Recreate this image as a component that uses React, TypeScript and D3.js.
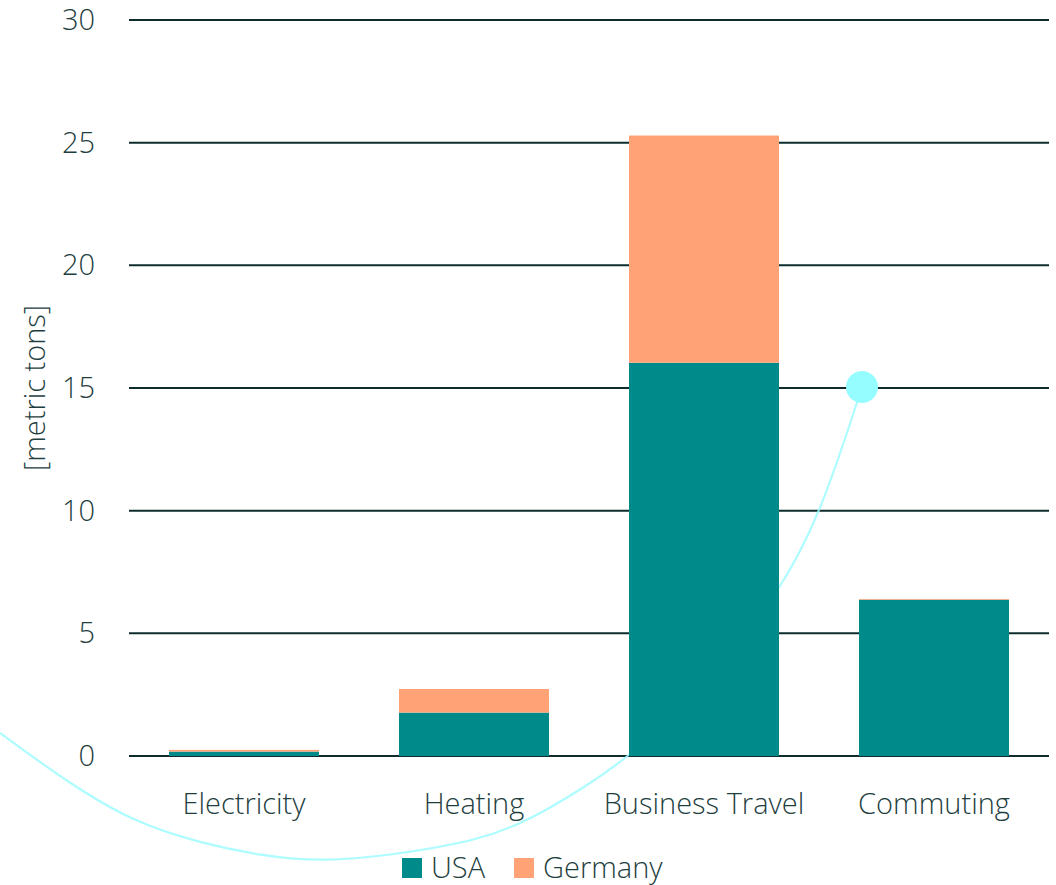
import React from "react";
import * as d3 from "d3";

const categories = ["Electricity", "Heating", "Business Travel", "Commuting"];
const usa = [0.18, 1.77, 16.03, 6.37];
const germany = [0.07, 0.96, 9.26, 0.03];
const seriesNames = ["USA", "Germany"];
const yTicks = [0, 5, 10, 15, 20, 25, 30];
const yLabel = "[metric tons]";

// decorative swoosh (not data)
const swoosh: [number, number][] = [
  [0, 733], [67, 782], [133, 822], [200, 843], [262, 856], [325, 862],
  [400, 854], [480, 840], [530, 820], [580, 790], [630, 757], [705, 685],
  [780, 593], [822, 510], [862, 387],
];

const W = 1056;
const H = 885;
const TEAL = "#008b8a";
const ORANGE = "#ffa275";
const GRID = "#0f2d2d";
const TEXT = "#1f3f3f";
const FONT = "'Open Sans', sans-serif";

export default function App() {
  const x = d3
    .scaleBand<string>()
    .domain(categories)
    .range([129, 1049])
    .paddingInner(80 / 230)
    .paddingOuter(40 / 230);
  const y = d3.scaleLinear().domain([0, 30]).range([756, 20]);

  const stackData = categories.map((c, i) => ({ cat: c, USA: usa[i], Germany: germany[i] }));
  const stacks = d3.stack<any>().keys(seriesNames)(stackData);
  const colors = [TEAL, ORANGE];

  const line = d3.line().curve(d3.curveBasis)(swoosh) || "";

  return (
    <svg
      width={W}
      height={H}
      style={{ position: "absolute", left: 0, top: 0, background: "#fff" }}
      fontFamily={FONT}
    >
      {/* gridlines */}
      {yTicks.map((t) => (
        <line key={t} x1={129} x2={1049} y1={y(t)} y2={y(t)} stroke={GRID} strokeWidth={2} />
      ))}
      {/* tick labels */}
      {yTicks.map((t) => (
        <text
          key={"l" + t}
          x={95}
          y={y(t)}
          dy="0.35em"
          textAnchor="end"
          fontSize={29}
          fontWeight={300}
          fill={TEXT}
        >
          {t}
        </text>
      ))}
      <text
        transform={`translate(45,388) rotate(-90)`}
        textAnchor="middle"
        fontSize={29}
        fontWeight={300}
        fill={TEXT}
      >
        {yLabel}
      </text>

      {/* swoosh behind bars */}
      <path d={line} fill="none" stroke="#9ffcff" strokeWidth={2.2} opacity={0.85} />
      <circle cx={swoosh[swoosh.length - 1][0]} cy={swoosh[swoosh.length - 1][1]} r={16} fill="#95fdff" />

      {/* bars */}
      {stacks.map((s, si) =>
        s.map((d: any) => (
          <rect
            key={s.key + d.data.cat}
            x={x(d.data.cat)}
            width={x.bandwidth()}
            y={y(d[1])}
            height={Math.max(0, y(d[0]) - y(d[1]))}
            fill={colors[si]}
          />
        ))
      )}

      {/* x labels */}
      {categories.map((c) => (
        <text
          key={"x" + c}
          x={(x(c) || 0) + x.bandwidth() / 2}
          y={814}
          textAnchor="middle"
          fontSize={29}
          fontWeight={300}
          fill={TEXT}
        >
          {c}
        </text>
      ))}

      {/* legend */}
      <g>
        <rect x={402} y={858} width={20} height={20} fill={TEAL} />
        <text x={431} y={878} fontSize={29} fontWeight={300} fill={TEXT}>
          {seriesNames[0]}
        </text>
        <rect x={514} y={858} width={20} height={20} fill={ORANGE} />
        <text x={543} y={878} fontSize={29} fontWeight={300} fill={TEXT}>
          {seriesNames[1]}
        </text>
      </g>
    </svg>
  );
}
